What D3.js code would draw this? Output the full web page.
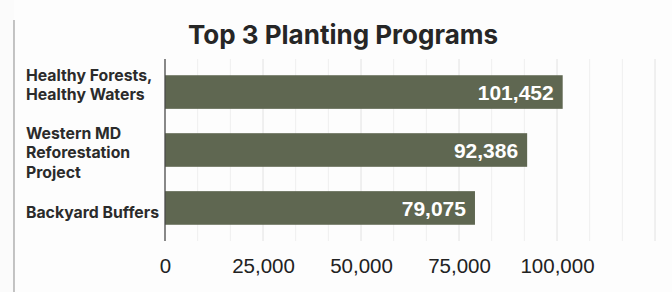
<!DOCTYPE html>
<html><head><meta charset="utf-8">
<script src="https://cdn.jsdelivr.net/npm/d3@7"></script>
<style>html,body{margin:0;padding:0;background:#fbfbfb;}svg{display:block;}</style>
</head><body><svg id="c" width="672" height="292"></svg>
<script>
const categories = [["Healthy Forests,","Healthy Waters"],["Western MD","Reforestation","Project"],["Backyard Buffers"]];
const categoryNames = ["Healthy Forests, Healthy Waters","Western MD Reforestation Project","Backyard Buffers"];
const values = [101452, 92386, 79075];
const tickValues = [0, 25000, 50000, 75000, 100000];
const title = "Top 3 Planting Programs";

(function(){
const svg = d3.select("#c");
svg.append("rect").attr("x",14).attr("y",0).attr("width",658).attr("height",292).attr("fill","#fdfdfd");
svg.append("line").attr("x1",14).attr("x2",14).attr("y1",20).attr("y2",292).attr("stroke","#b5b5b5").attr("stroke-width",1.6);

const pLeft=165, pTop=59, pBottom=241;
const x = d3.scaleLinear().domain([0,125000]).range([pLeft, pLeft+490]);
const y = d3.scaleBand().domain(categoryNames).range([pTop,pBottom]).paddingInner(0.42).paddingOuter(0.28);

const grid = d3.range(1,16).map(i=>i*25000/3);
svg.append("g").selectAll("line").data(grid).join("line")
  .attr("x1",d=>x(d)).attr("x2",d=>x(d)).attr("y1",pTop).attr("y2",pBottom)
  .attr("stroke",(d,i)=>((i+1)%3===0)?"#e2e2e2":"#efefef").attr("stroke-width",1);

svg.append("text").attr("x",343).attr("y",44).attr("text-anchor","middle")
  .attr("font-family","Inter, sans-serif").attr("font-weight",700).attr("font-size",26)
  .attr("fill","#262626").text(title);

svg.append("g").selectAll("rect").data(values).join("rect")
  .attr("x",x(0)).attr("y",(d,i)=>y(categoryNames[i])).attr("width",d=>x(d)-x(0))
  .attr("height",y.bandwidth()).attr("fill","#5f6751");

svg.append("g").selectAll("text").data(values).join("text")
  .attr("x",d=>x(d)-9).attr("y",(d,i)=>y(categoryNames[i])+y.bandwidth()/2)
  .attr("dy","0.36em").attr("text-anchor","end")
  .attr("font-family","Liberation Sans, Arial, sans-serif").attr("font-weight",700).attr("font-size",21)
  .attr("fill","#fff").text(d=>d3.format(",")(d));

const yl = svg.append("g");
categories.forEach((lines,i)=>{
  const b = y(categoryNames[i]);
  const lh = 19.5;
  const t = yl.append("text").attr("font-family","Inter, sans-serif").attr("font-weight",700)
    .attr("font-size",15.8).attr("fill","#2b2b2b");
  lines.forEach((ln,j)=>{
    const cy = lines.length>1 ? b + j*lh : b + y.bandwidth()/2 + 4;
    t.append("tspan").attr("x",26).attr("y",cy).attr("dy","0.36em").text(ln);
  });
});

svg.append("line").attr("x1",pLeft).attr("x2",pLeft).attr("y1",pTop).attr("y2",pBottom).attr("stroke","#4a4a4a").attr("stroke-width",1.3);
const xa = svg.append("g").attr("transform",`translate(0,${pBottom})`)
  .call(d3.axisBottom(x).tickValues(tickValues).tickSize(0).tickPadding(17).tickFormat(d3.format(",")));
xa.select(".domain").remove();
xa.selectAll("text").attr("font-family","Liberation Sans, Arial, sans-serif").attr("font-size",20.5).attr("fill","#222");
})();
</script></body></html>
